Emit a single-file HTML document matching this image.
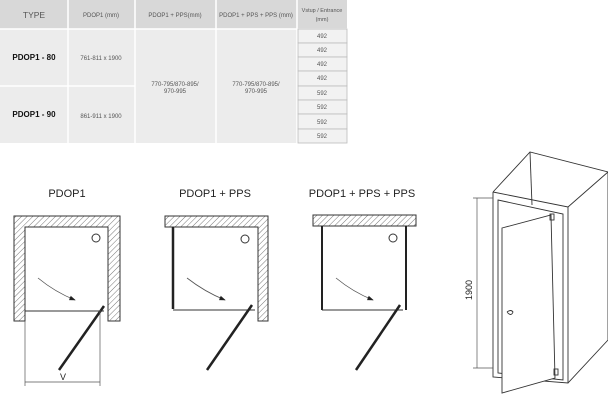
<!DOCTYPE html>
<html><head><style>
body{margin:0;width:608px;height:400px;background:#fff;overflow:hidden;font-family:"Liberation Sans",sans-serif}
</style></head><body>
<svg width="608" height="400" xmlns="http://www.w3.org/2000/svg" font-family="Liberation Sans, sans-serif">
<defs>
<pattern id="h" width="4" height="4" patternUnits="userSpaceOnUse" patternTransform="rotate(45)">
<rect width="4" height="4" fill="#fff"/><line x1="0" y1="0" x2="0" y2="4" stroke="#777" stroke-width="1"/>
</pattern>
<marker id="ar" markerWidth="8" markerHeight="6" refX="7" refY="3" orient="auto"><path d="M0,0 L8,3 L0,6z" fill="#222"/></marker>
</defs>
<rect x="0" y="0" width="347" height="29" fill="#d8d8d8"/>
<rect x="0" y="29" width="297" height="114" fill="#ececec"/>
<g stroke="#fff" stroke-width="1.5">
<line x1="68" y1="0" x2="68" y2="143"/><line x1="135" y1="0" x2="135" y2="143"/>
<line x1="216" y1="0" x2="216" y2="143"/><line x1="297" y1="0" x2="297" y2="143"/>
<line x1="0" y1="29" x2="347" y2="29"/><line x1="0" y1="86" x2="135" y2="86"/>
</g>
<g fill="#f2f2f2" stroke="#bbb" stroke-width="0.8">
<rect x="298" y="29" width="49" height="14"/><rect x="298" y="43" width="49" height="14"/>
<rect x="298" y="57" width="49" height="14"/><rect x="298" y="71" width="49" height="15"/>
<rect x="298" y="86" width="49" height="14"/><rect x="298" y="100" width="49" height="14"/>
<rect x="298" y="114" width="49" height="15"/><rect x="298" y="129" width="49" height="14"/>
</g>
<g font-size="6" fill="#555" text-anchor="middle">
<text x="34" y="18" font-size="8.5">TYPE</text>
<text x="101" y="17">PDOP1 (mm)</text>
<text x="175" y="17">PDOP1 + PPS(mm)</text>
<text x="256" y="17">PDOP1 + PPS + PPS (mm)</text>
<text x="322" y="12" font-size="5.5">Vstup / Entrance</text><text x="322" y="21" font-size="5.5">(mm)</text>
<text x="101" y="60">761-811 x 1900</text><text x="101" y="118">861-911 x 1900</text>
<text x="175" y="86">770-795/870-895/</text><text x="175" y="93">970-995</text>
<text x="256" y="86">770-795/870-895/</text><text x="256" y="93">970-995</text>
<text x="322" y="38">492</text><text x="322" y="52">492</text><text x="322" y="66">492</text><text x="322" y="80">492</text>
<text x="322" y="95">592</text><text x="322" y="109">592</text><text x="322" y="124">592</text><text x="322" y="138">592</text>
</g>
<g font-size="8" font-weight="bold" fill="#111" text-anchor="middle">
<text x="34" y="60">PDOP1 - 80</text><text x="34" y="117">PDOP1 - 90</text>
</g>
<g font-size="11" fill="#222" text-anchor="middle">
<text x="67" y="197">PDOP1</text><text x="215" y="197">PDOP1 + PPS</text><text x="362" y="197">PDOP1 + PPS + PPS</text>
</g>
<path d="M14,216 H120 V321 H108 V227 H25 V321 H14Z" fill="url(#h)" stroke="#333" stroke-width="1"/>
<line x1="25" y1="311" x2="104" y2="311" stroke="#333"/>
<circle cx="96" cy="238" r="4" fill="none" stroke="#333"/>
<path d="M38,278 Q55,292 75,300" fill="none" stroke="#555" stroke-width="0.8" marker-end="url(#ar)"/>
<line x1="104" y1="306" x2="59" y2="370" stroke="#222" stroke-width="2.5"/>
<g stroke="#555" stroke-width="0.7"><line x1="25" y1="321" x2="25" y2="386"/><line x1="100" y1="310" x2="100" y2="386"/><line x1="25" y1="382" x2="100" y2="382"/></g>
<text x="60" y="380" font-size="9" fill="#222">V</text>
<path d="M165,216 H268 V321 H258 V227 H165Z" fill="url(#h)" stroke="#333"/>
<line x1="173" y1="227" x2="173" y2="309" stroke="#222" stroke-width="2.5"/>
<line x1="173" y1="310" x2="255" y2="310" stroke="#333"/>
<circle cx="245" cy="239" r="4" fill="none" stroke="#333"/>
<path d="M187,278 Q205,292 225,300" fill="none" stroke="#555" stroke-width="0.8" marker-end="url(#ar)"/>
<line x1="252" y1="305" x2="207" y2="370" stroke="#222" stroke-width="2.5"/>
<rect x="313" y="215" width="103" height="11" fill="url(#h)" stroke="#333"/>
<line x1="322" y1="226" x2="322" y2="310" stroke="#222" stroke-width="2"/>
<line x1="406" y1="226" x2="406" y2="310" stroke="#222" stroke-width="2"/>
<line x1="322" y1="310" x2="403" y2="310" stroke="#333"/>
<circle cx="393" cy="238" r="4" fill="none" stroke="#333"/>
<path d="M336,278 Q353,292 373,300" fill="none" stroke="#555" stroke-width="0.8" marker-end="url(#ar)"/>
<line x1="400" y1="305" x2="356" y2="370" stroke="#222" stroke-width="2.5"/>
<g fill="none" stroke="#333" stroke-width="0.9">
<path d="M493,192 L530,152 L608,172 L608,340 L568,383"/>
<path d="M530,152 L532,205"/>
<path d="M493,192 L568,207 L608,172"/>
<path d="M493,192 L493,377 L568,383 L568,207"/>
<path d="M498,200 L563,214 L563,380 L498,373 Z"/>
<path d="M502,228 L551,215 L555,378 L502,393 Z" fill="#fff"/>
<path d="M507,312 q4,-3 6,0 q-2,5 -6,0" />
<rect x="550" y="214" width="4" height="6"/><rect x="554" y="369" width="4" height="6"/>
</g>
<g stroke="#555" stroke-width="0.7"><line x1="477" y1="198" x2="477" y2="368"/><line x1="473" y1="198" x2="493" y2="198"/><line x1="473" y1="368" x2="493" y2="368"/></g>
<text x="0" y="0" font-size="9" fill="#222" text-anchor="middle" transform="translate(472,290) rotate(-90)">1900</text>
</svg>
</body></html>
